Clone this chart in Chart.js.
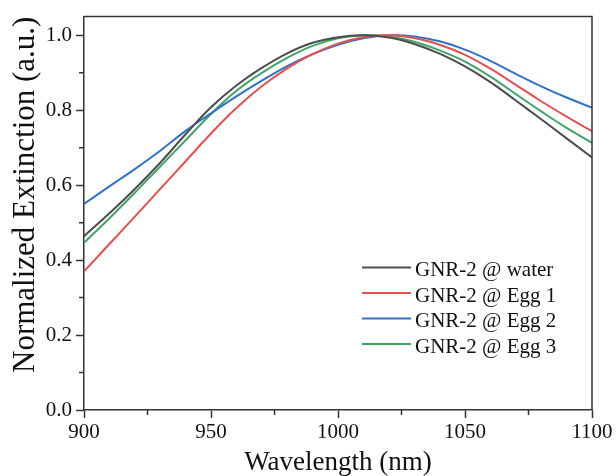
<!DOCTYPE html>
<html>
<head>
<meta charset="utf-8">
<script src="https://cdn.jsdelivr.net/npm/chart.js@4/dist/chart.umd.min.js"></script>
<style>
  html, body { margin: 0; padding: 0; background: #ffffff; }
  #wrap { width: 616px; height: 476px; position: relative; }
</style>
</head>
<body>
<div id="wrap"><canvas id="c" width="616" height="476"></canvas></div>
<script>
// ---- data ----
const wavelengths = [900, 910, 920, 930, 940, 950, 960, 970, 980, 990, 1000, 1010, 1020, 1030, 1040, 1050, 1060, 1070, 1080, 1090, 1100];
const waterValues = [0.464, 0.525, 0.590, 0.660, 0.736, 0.808, 0.866, 0.913, 0.952, 0.980, 0.995, 1.000, 0.994, 0.977, 0.951, 0.917, 0.875, 0.826, 0.776, 0.725, 0.674];
const egg1Values  = [0.370, 0.443, 0.516, 0.590, 0.664, 0.738, 0.806, 0.864, 0.912, 0.950, 0.978, 0.995, 1.000, 0.993, 0.975, 0.948, 0.911, 0.868, 0.824, 0.783, 0.744];
const egg2Values  = [0.550, 0.597, 0.643, 0.692, 0.745, 0.792, 0.837, 0.879, 0.918, 0.950, 0.975, 0.992, 1.000, 0.997, 0.984, 0.962, 0.932, 0.897, 0.864, 0.834, 0.807];
const egg3Values  = [0.446, 0.512, 0.580, 0.650, 0.720, 0.790, 0.852, 0.900, 0.940, 0.972, 0.992, 1.000, 0.997, 0.983, 0.960, 0.930, 0.890, 0.843, 0.797, 0.753, 0.713];
const seriesLabels = ['GNR-2 @ water', 'GNR-2 @ Egg 1', 'GNR-2 @ Egg 2', 'GNR-2 @ Egg 3'];
const seriesValues = [waterValues, egg1Values, egg2Values, egg3Values];
const seriesColors = ['#4d4d4d', '#e5504e', '#2f73c9', '#3ea56a'];
const xTickValues = [900, 950, 1000, 1050, 1100];
const yTickValues = [0.0, 0.2, 0.4, 0.6, 0.8, 1.0];
const xMinorTicks = [925, 975, 1025, 1075];
const yMinorTicks = [0.1, 0.3, 0.5, 0.7, 0.9];
const xTitle = 'Wavelength (nm)';
const yTitle = 'Normalized Extinction (a.u.)';

const FONT = '"Liberation Serif", "Times New Roman", serif';
const AXIS = '#333333';

const datasets = seriesValues.map((vals, i) => ({
  label: seriesLabels[i],
  data: wavelengths.map((w, j) => ({ x: w, y: vals[j] })),
  borderColor: seriesColors[i],
  backgroundColor: seriesColors[i],
  borderWidth: 2,
  pointRadius: 0,
  fill: false,
  tension: 0.4
}));

const framePlugin = {
  id: 'frame',
  afterDatasetsDraw(chart) {
    const { ctx, chartArea: a, scales } = chart;
    ctx.save();
    ctx.strokeStyle = AXIS;
    ctx.lineWidth = 1.5;
    ctx.beginPath();
    ctx.moveTo(a.left, a.top);
    ctx.lineTo(a.right, a.top);
    ctx.lineTo(a.right, a.bottom);
    ctx.stroke();
    // minor ticks
    ctx.beginPath();
    xMinorTicks.forEach(v => {
      const px = scales.x.getPixelForValue(v);
      ctx.moveTo(px, a.bottom);
      ctx.lineTo(px, a.bottom + 5);
    });
    yMinorTicks.forEach(v => {
      const py = scales.y.getPixelForValue(v);
      ctx.moveTo(a.left, py);
      ctx.lineTo(a.left - 5, py);
    });
    ctx.stroke();
    // legend
    const x0 = 362, x1 = 411, tx = 415;
    const rows = [267.5, 293, 318.5, 344];
    ctx.font = '21px ' + FONT;
    ctx.textBaseline = 'middle';
    ctx.textAlign = 'left';
    chart.data.datasets.forEach((ds, i) => {
      const y = rows[i];
      ctx.strokeStyle = ds.borderColor;
      ctx.lineWidth = 2;
      ctx.beginPath();
      ctx.moveTo(x0, y);
      ctx.lineTo(x1, y);
      ctx.stroke();
      ctx.fillStyle = '#111111';
      ctx.fillText(ds.label, tx, y + 3);
    });
    ctx.restore();
  }
};

new Chart(document.getElementById('c'), {
  type: 'line',
  data: { datasets },
  options: {
    responsive: false,
    animation: false,
    layout: { padding: { top: 13, right: 24, left: 0, bottom: 0 } },
    plugins: { legend: { display: false }, tooltip: { enabled: false } },
    scales: {
      x: {
        type: 'linear',
        min: 900, max: 1100,
        afterBuildTicks(scale) { scale.ticks = xTickValues.map(v => ({ value: v })); },
        ticks: { color: '#111111', font: { family: FONT, size: 21 }, padding: 2, maxRotation: 0,
                 callback: v => String(v) },
        grid: { drawOnChartArea: false, drawTicks: true, tickLength: 8, tickColor: AXIS, tickWidth: 1.5 },
        border: { display: true, color: AXIS, width: 1.5 },
        title: { display: true, text: xTitle, color: '#111111', font: { family: FONT, size: 27, lineHeight: 1 }, padding: { top: 0, bottom: 0 } },
        afterFit(scale) { scale.height = 66; }
      },
      y: {
        type: 'linear',
        min: 0, max: 1.05,
        afterBuildTicks(scale) { scale.ticks = yTickValues.map(v => ({ value: v })); },
        ticks: { color: '#111111', font: { family: FONT, size: 21 }, padding: 4,
                 callback: v => Number(v).toFixed(1) },
        grid: { drawOnChartArea: false, drawTicks: true, tickLength: 8, tickColor: AXIS, tickWidth: 1.5 },
        border: { display: true, color: AXIS, width: 1.5 },
        title: { display: true, text: yTitle, align: 'end', color: '#111111', font: { family: FONT, size: 31, lineHeight: 1 }, padding: { top: 10, bottom: 0 } },
        afterFit(scale) { scale.width = 84; }
      }
    }
  },
  plugins: [framePlugin]
});
</script>
</body>
</html>
